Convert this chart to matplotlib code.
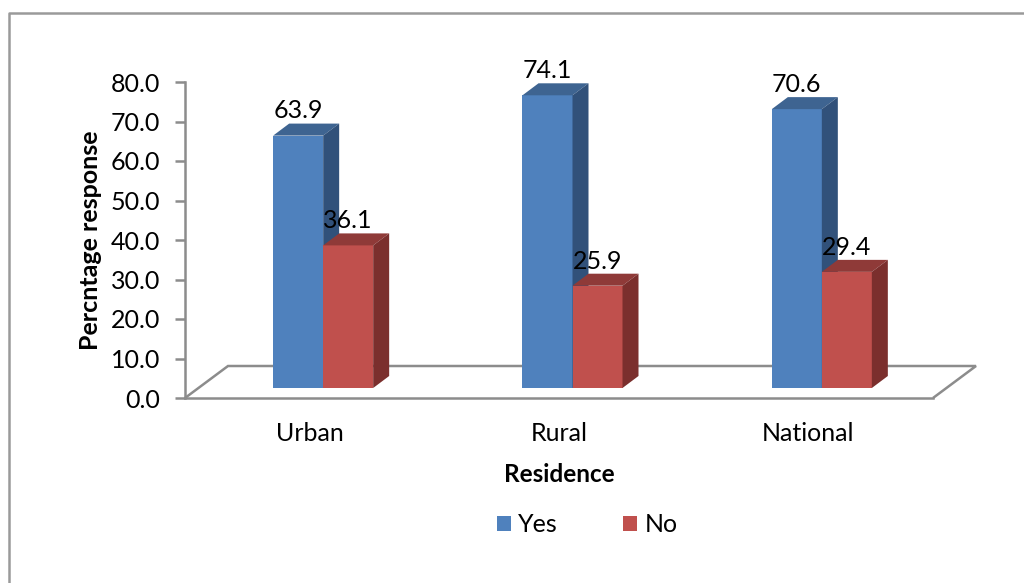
import matplotlib
matplotlib.use("Agg")
import matplotlib.pyplot as plt
from matplotlib.lines import Line2D
from matplotlib.patches import Patch, Polygon

categories = ["Urban", "Rural", "National"]
yes_values = [63.9, 74.1, 70.6]
no_values = [36.1, 25.9, 29.4]
y_ticks = [0, 10, 20, 30, 40, 50, 60, 70, 80]

BLUE = ("#4F81BD", "#3E6491", "#31517A")
RED = ("#C0504D", "#8F3A38", "#7B2F2D")
GRAY = "#8C8C8C"

plt.rcParams["font.family"] = ["Lato", "DejaVu Sans"]

W, H = 1024, 583
fig = plt.figure(figsize=(W / 100, H / 100), dpi=100)
ax = fig.add_axes([185 / W, 1 - 398 / H, 748 / W, 316 / H])
ax.set_xlim(0, 3)
ax.set_ylim(0, 80)

# outer chart frame, only top and left are visible in the picture
fig.add_artist(Line2D([9 / W, 9 / W, 1], [0, 1 - 13 / H, 1 - 13 / H],
                      color="#9A9A9A", lw=1.8, transform=fig.transFigure))

# fake 3d depth, in data units
bar_w = 50 / 249.33
group_shift = 13.5 / 249.33
base = 10 / 3.95
dx = 16 / 249.33
dy = 12 / 3.95
floor_dx = 43 / 249.33
floor_dy = 32 / 3.95

floor = [(0, 0), (floor_dx, floor_dy), (3 + floor_dx, floor_dy), (3, 0)]
ax.add_patch(Polygon(floor, closed=False, fill=False, edgecolor=GRAY, lw=1.8,
                     clip_on=False, zorder=1))


def draw_bar(x, value, colors, z):
    top = base + value
    ax.bar(x, value, bar_w, bottom=base, align="edge", color=colors[0], zorder=z)
    ax.add_patch(Polygon([(x, top), (x + dx, top + dy), (x + bar_w + dx, top + dy), (x + bar_w, top)],
                         facecolor=colors[1], edgecolor="none", clip_on=False, zorder=z))
    ax.add_patch(Polygon([(x + bar_w, base), (x + bar_w + dx, base + dy), (x + bar_w + dx, top + dy), (x + bar_w, top)],
                         facecolor=colors[2], edgecolor="none", clip_on=False, zorder=z))
    ax.text(x + bar_w / 2, top + dy + 3.2, f"{value:.1f}", ha="center", va="center",
            fontsize=18, color="black", clip_on=False, zorder=10)


for i in range(len(categories)):
    center = i + 0.5 + group_shift
    draw_bar(center - bar_w, yes_values[i], BLUE, 3)
    draw_bar(center, no_values[i], RED, 4)

ax.set_xticks([i + 0.5 for i in range(len(categories))])
ax.set_xticklabels(categories, fontsize=18)
ax.tick_params(axis="x", length=0, pad=17)
ax.set_yticks(y_ticks)
ax.set_yticklabels([f"{t:.1f}" for t in y_ticks], fontsize=18)
ax.tick_params(axis="y", length=7, width=1.8, color=GRAY, pad=11)

for side in ["top", "right"]:
    ax.spines[side].set_visible(False)
for side in ["left", "bottom"]:
    ax.spines[side].set_color(GRAY)
    ax.spines[side].set_linewidth(1.8)

ax.set_xlabel("Residence", fontsize=17.5, fontweight="bold", labelpad=13)
ax.set_ylabel("Percntage response", fontsize=18, fontweight="bold")
ax.yaxis.set_label_coords((102 - 185) / 748, (398 - 240) / 316)

handles = [Patch(facecolor=BLUE[0], label="Yes"), Patch(facecolor=RED[0], label="No")]
fig.legend(handles=handles, loc="center", bbox_to_anchor=(587 / W, 1 - 525 / H), ncol=2,
           frameon=False, fontsize=18, handlelength=0.56, handleheight=0.56,
           handletextpad=0.3, columnspacing=2.6)

fig.savefig("out.png", dpi=100)
